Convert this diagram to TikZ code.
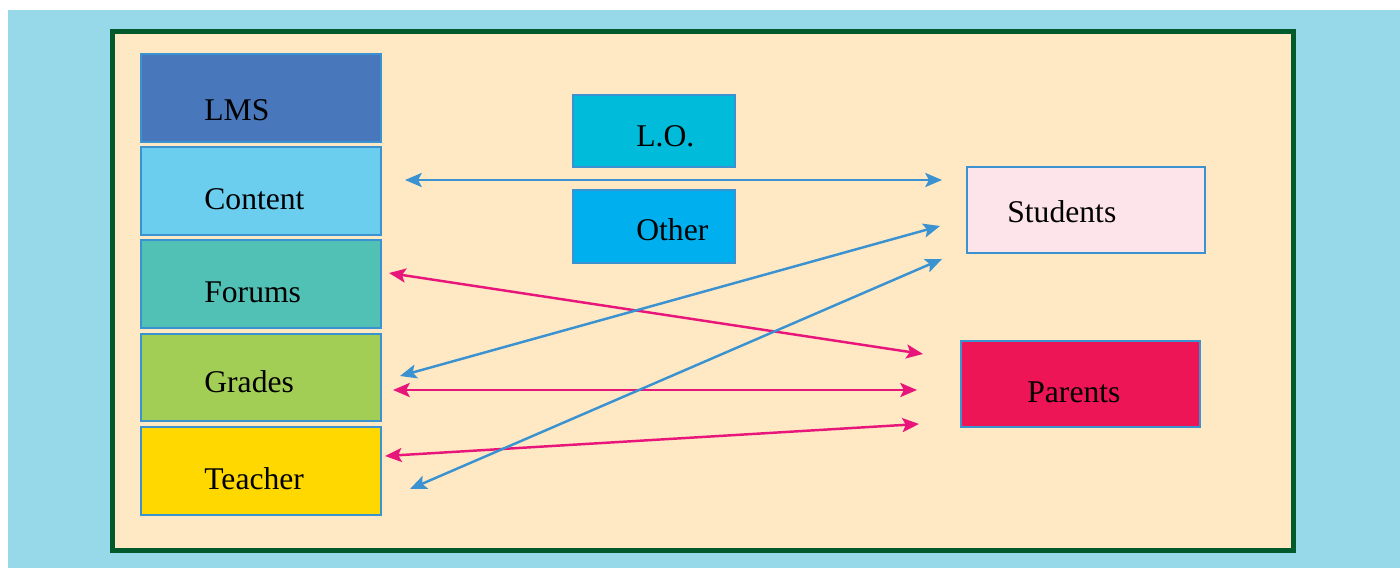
\documentclass[tikz,border=0pt]{standalone}
\usepackage{fontspec}
\setmainfont{Liberation Serif}
\usetikzlibrary{arrows.meta}
\definecolor{bgblue}{RGB}{151,217,233}
\definecolor{panel}{RGB}{255,232,196}
\definecolor{panelgreen}{RGB}{0,90,43}
\definecolor{edgeblue}{RGB}{58,146,208}
\definecolor{clms}{RGB}{72,119,187}
\definecolor{ccontent}{RGB}{107,206,239}
\definecolor{cforums}{RGB}{82,193,181}
\definecolor{cgrades}{RGB}{162,206,85}
\definecolor{cteacher}{RGB}{255,216,0}
\definecolor{clo}{RGB}{0,187,217}
\definecolor{cother}{RGB}{0,176,238}
\definecolor{cstudents}{RGB}{252,228,234}
\definecolor{cparents}{RGB}{238,21,86}
\definecolor{pinkarrow}{RGB}{232,22,122}
\def\u{0.02cm}
\begin{document}
\begin{tikzpicture}[x=0.02cm,y=-0.02cm,
  box/.style={draw=edgeblue, line width=1.5pt, inner sep=0pt, outer sep=0pt},
  lbl/.style={anchor=base west, inner sep=0pt, font=\fontsize{18}{20}\selectfont, text=black},
  conn/.style={line width=1.4pt, {Stealth[length=9.5pt,width=8pt,inset=2pt]}-{Stealth[length=9.5pt,width=8pt,inset=2pt]}},
  blueconn/.style={conn, draw=edgeblue},
  pinkconn/.style={conn, draw=pinkarrow}]
\useasboundingbox (0,0) rectangle (1400,569);
\fill[white] (0,0) rectangle (1400,569);
\fill[bgblue] (8,10) rectangle (1400,568);
\draw[panelgreen, line width=2.8pt, fill=panel] (112.5,31.5) rectangle (1293.5,550.5);

% left column
\node[box, fill=clms, minimum width=240*\u, minimum height=88*\u] (lms) at (261,98) {};
\node[box, fill=ccontent, minimum width=240*\u, minimum height=88*\u] (content) at (261,191) {};
\node[box, fill=cforums, minimum width=240*\u, minimum height=88*\u] (forums) at (261,284) {};
\node[box, fill=cgrades, minimum width=240*\u, minimum height=87*\u] (grades) at (261,377.5) {};
\node[box, fill=cteacher, minimum width=240*\u, minimum height=88*\u] (teacher) at (261,471) {};
\node[lbl] (lmsT) at (204,120) {LMS};
\node[lbl] (contentT) at (204,209) {Content};
\node[lbl] (forumsT) at (204,302) {Forums};
\node[lbl] (gradesT) at (204,392) {Grades};
\node[lbl] (teacherT) at (204,489) {Teacher};

% middle
\node[box, fill=clo, minimum width=162*\u, minimum height=72*\u] (lo) at (654,131) {};
\node[box, fill=cother, minimum width=162*\u, minimum height=73*\u] (other) at (654,226.5) {};
\node[lbl] (loT) at (636,146) {L.O.};
\node[lbl] (otherT) at (636,240) {Other};

% right
\node[box, fill=cstudents, minimum width=238*\u, minimum height=86*\u] (students) at (1086,210) {};
\node[box, fill=cparents, minimum width=239*\u, minimum height=86*\u] (parents) at (1080.5,384) {};
\node[lbl] (studentsT) at (1007,222) {Students};
\node[lbl] (parentsT) at (1027,402) {Parents};

% connector ends
\coordinate (a1s) at (405,180); \coordinate (a1e) at (942,180);
\coordinate (a2s) at (400,376); \coordinate (a2e) at (940,226);
\coordinate (a3s) at (410,489); \coordinate (a3e) at (942,259);
\coordinate (a4s) at (389,273); \coordinate (a4e) at (923,354);
\coordinate (a5s) at (393,390); \coordinate (a5e) at (917,390);
\coordinate (a6s) at (385,456); \coordinate (a6e) at (919,424);

\draw[blueconn] (a1s) -- (a1e);
\draw[pinkconn] (a4s) -- (a4e);
\draw[pinkconn] (a5s) -- (a5e);
\draw[pinkconn] (a6s) -- (a6e);
\draw[blueconn] (a2s) -- (a2e);
\draw[blueconn] (a3s) -- (a3e);
\end{tikzpicture}
\end{document}
